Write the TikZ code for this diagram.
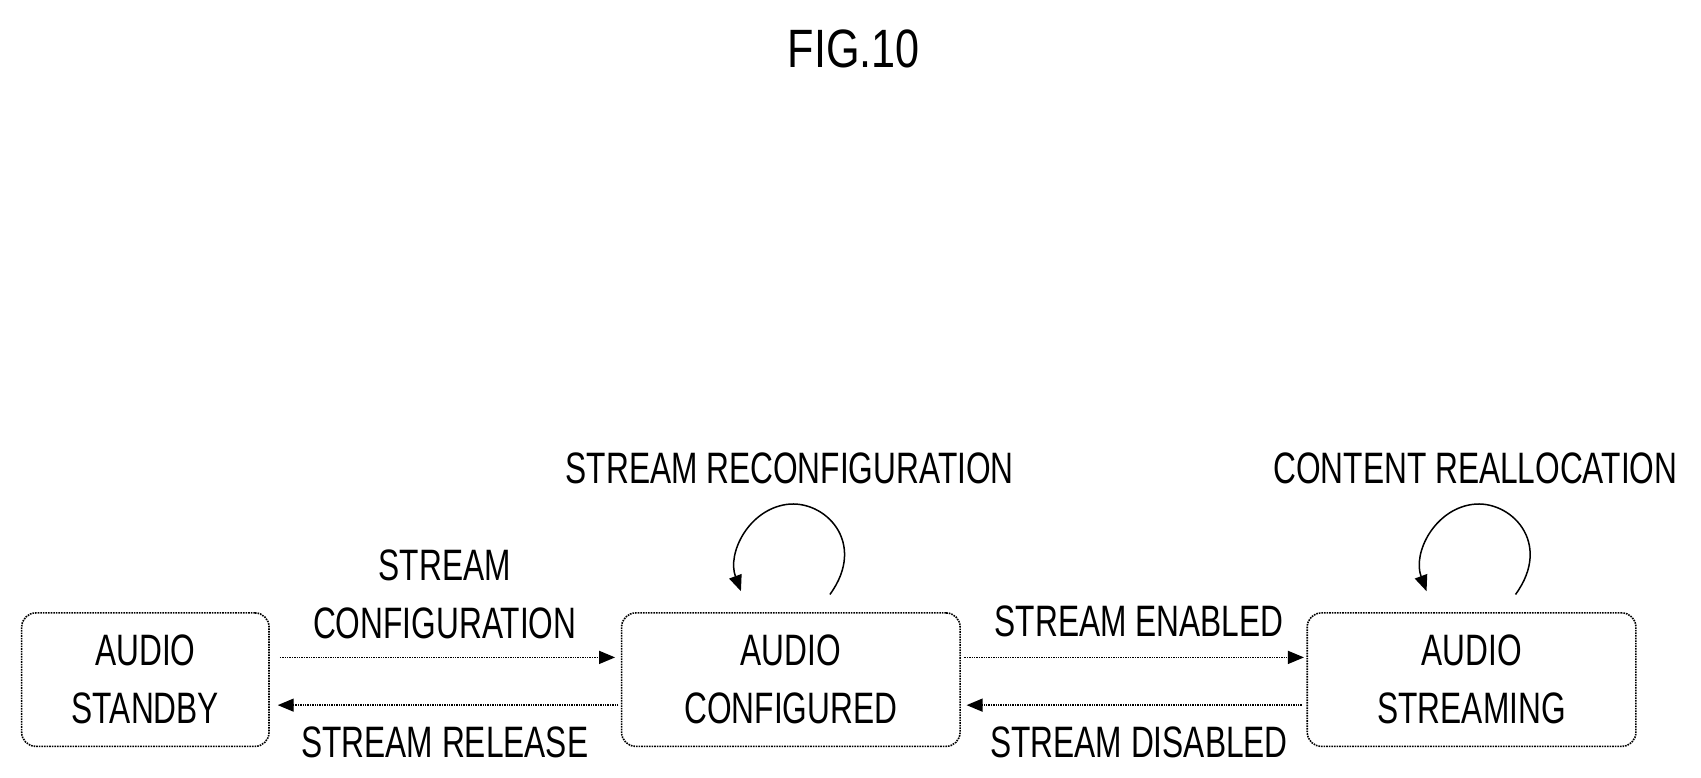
\documentclass[tikz,border=0pt]{standalone}
\usepackage{fontspec}
\setmainfont{Liberation Sans}
\usetikzlibrary{arrows.meta}
\newcommand{\nt}[1]{\scalebox{0.72}[1]{#1}}
\begin{document}
\begin{tikzpicture}[x=1.085pt,y=-1.085pt,
  lbl/.style={font=\fontsize{44}{58}\selectfont, align=center, inner sep=0},
  st/.style={draw, densely dotted, line width=1.6pt, rounded corners=14pt, inner sep=0},
  ar/.style={densely dotted, line width=1.4pt, -{Triangle[length=16pt,width=13pt]}},
  lp/.style={line width=1.5pt, -{Triangle[length=16pt,width=13pt]}}]
\useasboundingbox (0,0) rectangle (1568,717);
\node[lbl, font=\fontsize{54}{60}\selectfont] (title) at (787,45) {\scalebox{0.8}[1]{FIG.10}};
\node[st, minimum width=228*1.085pt, minimum height=123*1.085pt] (sb) at (134,626.5) {};
\node[st, minimum width=312*1.085pt, minimum height=123*1.085pt] (cf) at (729,626.5) {};
\node[st, minimum width=303*1.085pt, minimum height=123*1.085pt] (sm) at (1356.5,626.5) {};
\node[lbl] (sbt) at (sb) {\nt{AUDIO}\\\nt{STANDBY}};
\node[lbl] (cft) at (cf) {\nt{AUDIO}\\\nt{CONFIGURED}};
\node[lbl] (smt) at (sm) {\nt{AUDIO}\\\nt{STREAMING}};
\coordinate (a1) at (258,606); \coordinate (a2) at (567,606);
\coordinate (b1) at (570,650); \coordinate (b2) at (256,650);
\coordinate (c1) at (889,606); \coordinate (c2) at (1202,606);
\coordinate (d1) at (1200,650); \coordinate (d2) at (891,650);
\draw[ar] (a1) -- (a2);
\draw[ar] (b1) -- (b2);
\draw[ar] (c1) -- (c2);
\draw[ar] (d1) -- (d2);
\node[lbl] (l1) at (410,548) {\nt{STREAM}\\\nt{CONFIGURATION}};
\node[lbl] (l2) at (410,684) {\nt{STREAM RELEASE}};
\node[lbl] (l3) at (1050,573) {\nt{STREAM ENABLED}};
\node[lbl] (l4) at (1050,684) {\nt{STREAM DISABLED}};
\node[lbl] (l5) at (728,432) {\nt{STREAM RECONFIGURATION}};
\node[lbl] (l6) at (1360,432) {\nt{CONTENT REALLOCATION}};
\coordinate (p1) at (765,548); \coordinate (p2) at (683,545);
\coordinate (q1) at (1397,548); \coordinate (q2) at (1315,545);
\draw[lp] (p1) .. controls (800,500) and (760,460) .. (725,465) .. controls (690,470) and (670,510) .. (p2);
\draw[lp] (q1) .. controls (1432,500) and (1392,460) .. (1357,465) .. controls (1322,470) and (1302,510) .. (q2);
\end{tikzpicture}
\end{document}
